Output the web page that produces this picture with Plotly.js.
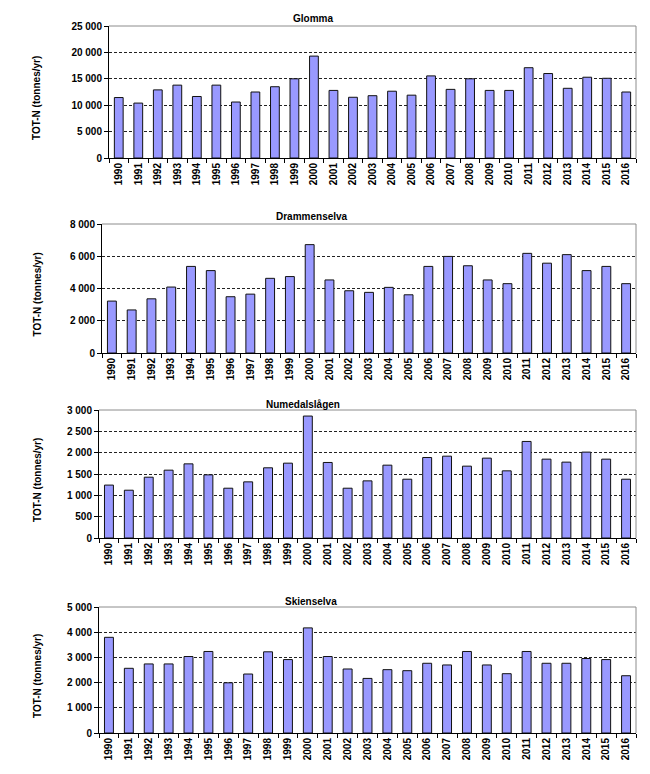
<!DOCTYPE html>
<html>
<head>
<meta charset="utf-8">
<script src="https://cdn.plot.ly/plotly-3.0.1.min.js"></script>
<style>html,body{margin:0;padding:0;background:#fff;}#chart{width:650px;height:774px;}</style>
</head>
<body>
<div id="chart"></div>
<script>
const years = ["1990","1991","1992","1993","1994","1995","1996","1997","1998","1999","2000","2001","2002","2003","2004","2005","2006","2007","2008","2009","2010","2011","2012","2013","2014","2015","2016"];
const glomma = [11450,10400,12900,13800,11650,13800,10600,12500,13500,15000,19300,12800,11500,11800,12650,11900,15550,13000,15000,12800,12800,17100,16000,13200,15300,15100,12500];
const drammenselva = [3220,2670,3360,4090,5370,5110,3490,3650,4630,4740,6720,4530,3860,3760,4070,3610,5370,5990,5410,4530,4300,6180,5570,6100,5110,5370,4300];
const numedalslagen = [1240,1120,1425,1590,1738,1480,1167,1316,1645,1754,2858,1770,1167,1339,1707,1378,1887,1918,1684,1872,1574,2263,1848,1778,2013,1848,1378];
const skienselva = [3797,2567,2740,2740,3035,3235,1992,2340,3222,2914,4171,3035,2540,2166,2513,2473,2767,2700,3235,2700,2353,3235,2767,2767,2955,2914,2273];
const panelTitles = ["Glomma","Drammenselva","Numedalslågen","Skienselva"];
const yMax = [25000,8000,3000,5000];
const yDtick = [5000,2000,500,1000];
const yAxisTitle = "TOT-N (tonnes/yr)";

const series = [glomma, drammenselva, numedalslagen, skienselva];
const W = 650, H = 774;
// plot areas in px: [left, right, top, bottom]
const boxes = [[109,636,26,158],[102,636,224,353],[99,636,410,538],[99,636,607,733]];
const titleY = [18,217,404,601];
const titleX = [313,312,303,311];

const font = {family:"Liberation Sans, Arial, sans-serif", size:10, color:"#000", weight:"bold"};
const traces = [];
const layout = {
  width: W, height: H,
  margin:{l:0,r:0,t:0,b:0},
  paper_bgcolor:"#fff", plot_bgcolor:"#fff",
  showlegend:false,
  separators:", ",
  font: font,
  annotations: [], shapes: []
};
series.forEach((vals,i)=>{
  const n = i===0 ? "" : String(i+1);
  const b = boxes[i];
  traces.push({
    type:"bar", x: years, y: vals,
    xaxis:"x"+n, yaxis:"y"+n,
    marker:{color:"#9999FF", line:{color:"#111", width:1}},
    hoverinfo:"x+y"
  });
  layout["xaxis"+n] = {
    domain:[b[0]/W, b[1]/W], anchor:"y"+n,
    type:"category", tickangle:-90, tickfont:font,
    showline:true, linecolor:"#000", linewidth:1,
    ticks:"outside", tickson:"boundaries", ticklen:4, tickcolor:"#000",
    showgrid:false, fixedrange:true
  };
  layout["yaxis"+n] = {
    domain:[1-b[3]/H, 1-b[2]/H], anchor:"x"+n,
    range:[0, yMax[i]], dtick:yDtick[i], tick0:0, tickformat:",d",
    tickfont:font, showline:true, linecolor:"#000", linewidth:1,
    ticks:"outside", ticklen:4, tickcolor:"#000",
    showgrid:true, gridcolor:"#222", gridwidth:1, griddash:"3px,2px",
    zeroline:false, fixedrange:true
  };
  layout.shapes.push({type:"line", xref:"x"+n+" domain", yref:"y"+n+" domain", x0:0, x1:1, y0:1, y1:1, line:{color:"#8c8c8c", width:1}});
  layout.shapes.push({type:"line", xref:"x"+n+" domain", yref:"y"+n+" domain", x0:1, x1:1, y0:0, y1:1, line:{color:"#8c8c8c", width:1}});
  layout.annotations.push({
    text: panelTitles[i], xref:"paper", yref:"paper",
    x: titleX[i]/W, y: 1-titleY[i]/H, xanchor:"center", yanchor:"middle",
    showarrow:false, font:font
  });
  layout.annotations.push({
    text: yAxisTitle, xref:"paper", yref:"paper", textangle:-90,
    x: 37/W, y: 1-((b[2]+b[3])/2+6)/H, xanchor:"center", yanchor:"middle",
    showarrow:false, font:font
  });
});
layout.bargap = 0.55;
Plotly.newPlot("chart", traces, layout, {displayModeBar:false, staticPlot:true});
</script>
</body>
</html>
